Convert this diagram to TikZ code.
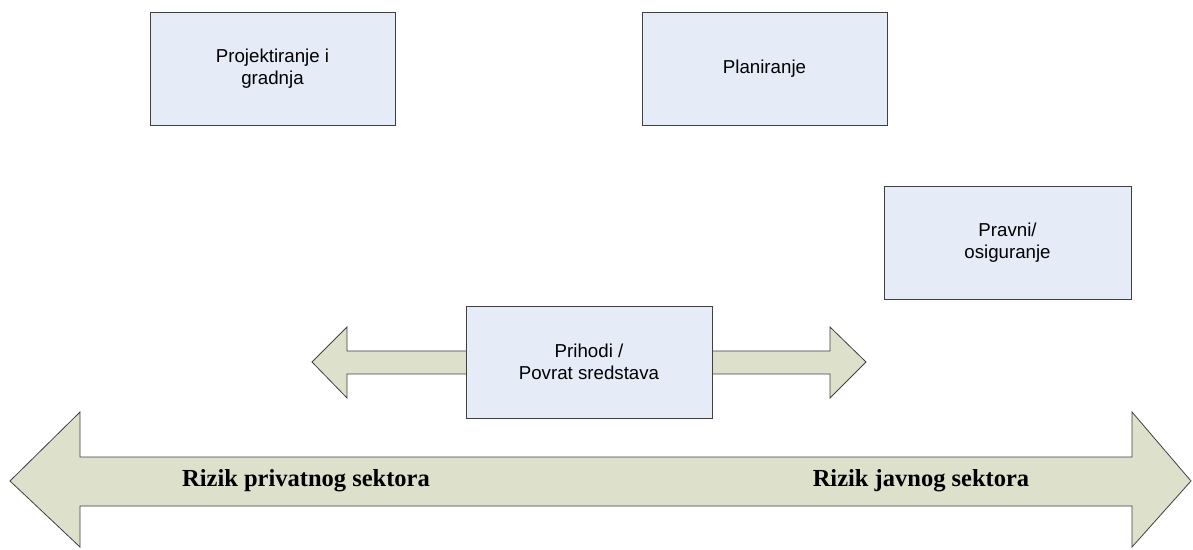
\documentclass[tikz,border=0pt]{standalone}
\usepackage{fontspec}
\setmainfont{Liberation Serif}
\setsansfont{Liberation Sans}
\usepackage{tikz}
\definecolor{boxfill}{HTML}{E6ECF7}
\definecolor{arrowfill}{HTML}{DDE1CB}
\definecolor{edge}{HTML}{404040}
\tikzset{
        risk/.style={font=\fontsize{24.5}{28}\selectfont\bfseries},
    }

\begin{document}
\begin{tikzpicture}[x=1pt,y=1pt,
          box/.style = {draw=edge,fill=boxfill,line width=0.8pt,minimum width=245pt,minimum height=113pt,
                        align=center,font=\sffamily\fontsize{18.7}{22}\selectfont},
          fat arrow/.style = {draw=edge,fill=arrowfill,line width=0.8pt,line join=miter}
          ]
 \useasboundingbox (0,0) rectangle (1193,549);
          %\draw[fat arrow] (10,68) -- (1191,68);
 \draw[fat arrow] (10,68) -- (80,137) -- (80,92) -- (1132,92) -- (1132,137) -- (1191,68)
                  -- (1132,2) -- (1132,43) -- (80,43) -- (80,2) -- cycle;
 \draw[fat arrow] (312,187) -- (347,222) -- (347,198) -- (830,198) -- (830,222) -- (866,187)
                  -- (830,151) -- (830,175) -- (347,175) -- (347,151) -- cycle;
          \node[box] (@proj) at (272.5,480.5) {Projektiranje i\\gradnja};
          \node[box] (@plan) at (764.5,480.5) {Planiranje};
          \node[box,minimum width=247pt] (@prav) at (1007.5,306.5) {Pravni/\\osiguranje};
          \node[box,minimum width=246pt,minimum height=112pt] (@prih) at (589,187) {Prihodi /\\Povrat sredstava};
          \node[risk] (@priv) at (306,68) {Rizik privatnog sektora};
          \node[risk] (@javn) at (921,68) {Rizik javnog sektora};
        \end{tikzpicture}
\end{document}
